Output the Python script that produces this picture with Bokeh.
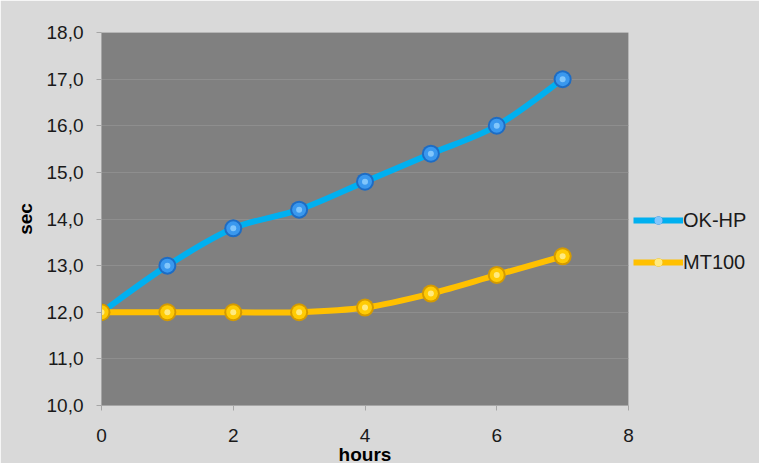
import numpy as np
from bokeh.plotting import figure
from bokeh.models import Range1d, FixedTicker, Legend, LegendItem
from bokeh.embed import file_html
from bokeh.resources import INLINE

# ---- data ----
hours = [0, 1, 2, 3, 4, 5, 6, 7]
ok_hp = [12.0, 13.0, 13.8, 14.2, 14.8, 15.4, 16.0, 17.0]
mt100 = [12.0, 12.0, 12.0, 12.0, 12.1, 12.4, 12.8, 13.2]
series_names = ["OK-HP", "MT100"]
x_ticks = [0, 2, 4, 6, 8]
y_ticks = [10, 11, 12, 13, 14, 15, 16, 17, 18]
y_tick_labels = ["10,0", "11,0", "12,0", "13,0", "14,0", "15,0", "16,0", "17,0", "18,0"]
x_label = "hours"
y_label = "sec"

FONT = "Liberation Sans"
BLUE_LINE = "#00b0f0"
BLUE_SHADES = ["#1d6cc4", "#3a98ee", "#9ad6ff"]
YEL_LINE = "#ffc000"
YEL_SHADES = ["#d49a00", "#ffcb05", "#fff4a8"]


def smooth_segments(xs, ys):
    """Catmull-Rom style bezier control points through the data points."""
    P = np.column_stack([np.asarray(xs, float), np.asarray(ys, float)])
    ext = np.vstack([P[:1], P, P[-1:]])
    x0, y0, x1, y1, cx0, cy0, cx1, cy1 = ([] for _ in range(8))
    for i in range(len(P) - 1):
        p0, p1, p2, p3 = ext[i], ext[i + 1], ext[i + 2], ext[i + 3]
        c1 = p1 + (p2 - p0) / 6.0
        c2 = p2 - (p3 - p1) / 6.0
        x0.append(p1[0]); y0.append(p1[1])
        x1.append(p2[0]); y1.append(p2[1])
        cx0.append(c1[0]); cy0.append(c1[1])
        cx1.append(c2[0]); cy1.append(c2[1])
    return dict(x0=x0, y0=y0, x1=x1, y1=y1, cx0=cx0, cy0=cy0, cx1=cx1, cy1=cy1)


p = figure(
    frame_width=527, frame_height=373,
    x_range=Range1d(0, 8), y_range=Range1d(10, 18),
    output_backend="svg", toolbar_location=None,
    background_fill_color="#808080", border_fill_color="#d9d9d9",
    min_border_left=101, min_border_right=131, min_border_top=32, min_border_bottom=58,
    outline_line_color=None,
)

# axes
p.xaxis.ticker = FixedTicker(ticks=x_ticks)
p.yaxis.ticker = FixedTicker(ticks=y_ticks)
p.yaxis.major_label_overrides = {t: l for t, l in zip(y_ticks, y_tick_labels)}
for ax in (p.xaxis, p.yaxis):
    ax.axis_line_color = "#a6a6a6"
    ax.major_tick_line_color = "#a6a6a6"
    ax.major_tick_in = 0
    ax.major_tick_out = 5
    ax.minor_tick_line_color = None
    ax.major_label_text_font = FONT
    ax.major_label_text_font_size = "19px"
    ax.major_label_text_color = "#1a1a1a"
    ax.axis_label_text_font = FONT
    ax.axis_label_text_font_style = "bold"
    ax.axis_label_text_font_size = "19px"
    ax.axis_label_text_color = "#000000"
p.xaxis.major_label_standoff = 18
p.xaxis.major_label_text_line_height = 0.9
p.yaxis.major_label_standoff = 13
p.yaxis.axis_label = y_label
p.yaxis.axis_label_standoff = 8
p.xaxis.axis_label = x_label
p.xaxis.axis_label_text_line_height = 0.9
p.xaxis.axis_label_standoff = -1

p.xgrid.grid_line_color = None
p.ygrid.grid_line_color = "#8e8e8e"
p.ygrid.grid_line_width = 1

legend_items = []
for name, ys, lc, shades in [(series_names[0], ok_hp, BLUE_LINE, BLUE_SHADES),
                             (series_names[1], mt100, YEL_LINE, YEL_SHADES)]:
    seg = smooth_segments(hours, ys)
    p.bezier(x0="x0", y0="y0", x1="x1", y1="y1", cx0="cx0", cy0="cy0", cx1="cx1", cy1="cy1",
             source=seg, line_color=lc, line_width=6, line_cap="round")
    proxy = p.line(x=hours[:1], y=ys[:1], line_color=lc, line_width=6)
    r1 = p.scatter(hours, ys, size=18, fill_color=shades[0], line_color=None)
    r2 = p.scatter(hours, ys, size=14, fill_color=shades[1], line_color=None)
    r3 = p.scatter(hours, ys, size=6, fill_color=shades[2], fill_alpha=0.75, line_color=None)
    legend_items.append(LegendItem(label=name, renderers=[proxy, r1, r2, r3]))

legend = Legend(items=legend_items, location="left", orientation="vertical",
                title=" ", title_text_font_size="10px", title_standoff=34,
                background_fill_alpha=0, border_line_color=None,
                label_text_font=FONT, label_text_font_size="20px", label_text_color="#1a1a1a",
                glyph_width=50, glyph_height=20, label_height=20, label_standoff=0,
                spacing=19, padding=0, margin=5)
p.add_layout(legend, "right")

open("out.html", "w").write(file_html(p, INLINE))
